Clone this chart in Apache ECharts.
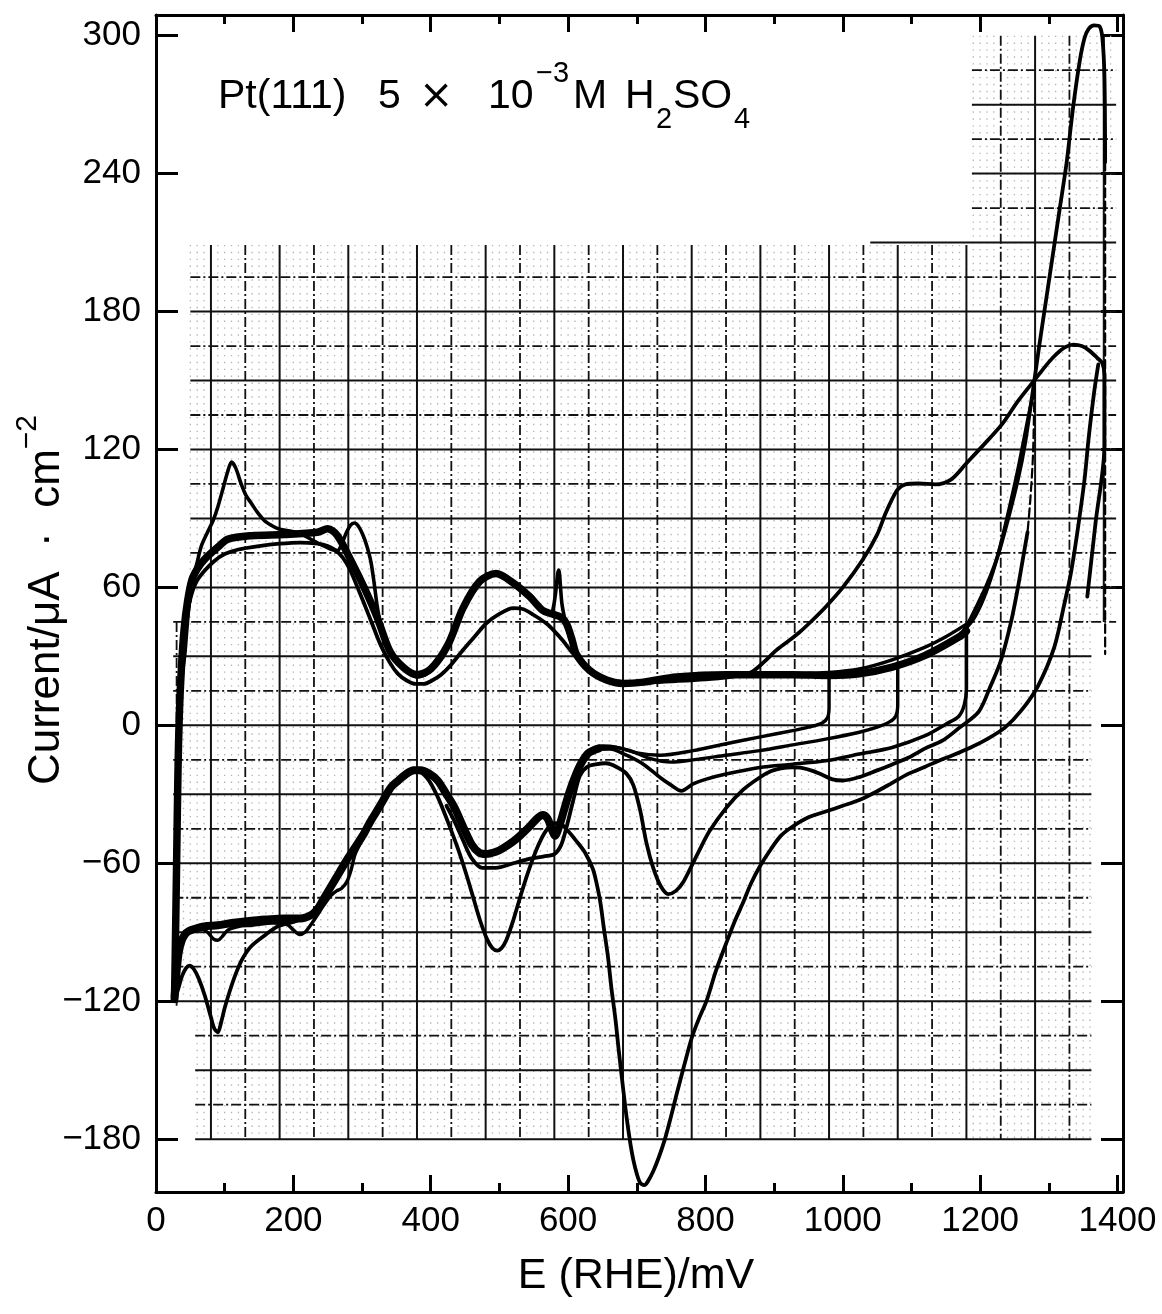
<!DOCTYPE html>
<html><head><meta charset="utf-8">
<script src="https://cdn.jsdelivr.net/npm/echarts@6/dist/echarts.min.js"></script>
<style>html,body{margin:0;padding:0;background:#fff}#c{width:1162px;height:1314px}</style>
</head><body><div id="c"></div>
<script>
// ---- axis ticks ----
const X_TICKS = [0, 200, 400, 600, 800, 1000, 1200, 1400];
const Y_TICKS = [-180, -120, -60, 0, 60, 120, 180, 240, 300];

// ---- graph-paper major lines (decoration) ----
const paperX = [30,80,130,180,230,280,330,380,430,480,530,580,630,680,730,780,830,880,930,980,1030,1080,1130,1180,1230,1280,1330,1380];
const paperY = [285,270,255,240,225,210,195,180,165,150,135,120,105,90,75,60,45,30,15,0,-15,-30,-45,-60,-75,-90,-105,-120,-135,-150,-165,-180];

// ---- curves: [E (mV), current (uA cm^-2)] ----
const anodicBundle = [[27,-118],[28,-100],[30,-60],[32,-20],[34,5],[37,25],[41,42],[46,54],[52,63],[60,68],[70,72],[90,77.5],[105,81],[139,82.5],[187,83],[235,84],[250,85.5],[264,82.6],[284,71.6],[303,60],[322,47],[341,32],[361,25],[380,22],[400,24.5],[425,35],[447,51],[471,62.5],[495,66],[520,62],[544,56],[563,50],[576,48.5],[590,47],[598,44],[606,37],[612,31],[631,24],[656,19.7],[680,18.2],[710,18.8],[758,21],[830,22],[927,22],[980,21.7],[1024,22.4],[1072,25.3],[1120,30.4],[1169,38.4],[1180,41]];
const anodicBundle2 = [[930,22.5],[980,23],[1024,24.5],[1072,28.5],[1120,34],[1150,38.5],[1180,44]];
const anodicClean = [[29,-110],[30,-80],[31,-40],[33,0],[36,15],[39,24],[42,31],[45,42],[48,52],[51,58],[55,65],[60,71],[66,78],[75,84],[83,89],[90,95],[98,103.5],[104,110],[110,114.5],[116,112],[124,105],[131,100],[139,96.5],[148,92.5],[158,89],[168,87],[178,85.5],[195,84.5],[211,83.3],[228,80.5],[245,78],[256,76.5],[264,76],[270,78.5],[276,83],[283,87],[289,88],[295,86.5],[301,83],[307,78],[313,71],[318,61],[322,52],[327,44],[332,39.5],[340,33.5],[350,28.5],[357,26.5],[368,23],[380,21],[395,22.5],[410,27],[425,35],[447,51],[471,62.5],[495,66],[520,62],[544,56],[563,50],[575,48.5],[579,52],[582,58],[584.5,65],[586,67.5],[587.5,66],[589,60],[591,53],[594,48],[598,43],[605,36],[612,30],[631,24],[656,20],[680,18.5]];
const anodicDisordered = [[27,-118],[28,-95],[30,-55],[32,-15],[35,12],[39,30],[44,45],[50,55],[58,62],[70,67],[85,71.5],[100,74.5],[120,76.5],[150,78],[180,79],[210,79.5],[235,79],[250,78],[262,76],[272,73],[282,68],[292,61],[303,53],[315,44],[327,35],[340,27.5],[352,22.5],[365,19.5],[378,18],[390,18],[402,19.5],[415,22],[430,26.5],[447,32.8],[465,39],[481,44.4],[500,48.5],[520,51],[535,50.5],[550,48],[568,44.4],[580,41],[592,37],[607,31.3],[625,25.5],[645,21.5],[665,19.5],[690,18.8],[720,18.8],[760,19.3],[800,20],[835,21],[855,22],[869,23.5],[885,27.5],[903,32.6],[920,36.5],[937,40.5],[955,45.5],[975,51.5],[1000,60],[1029,72],[1050,83],[1062,92],[1072,98.5],[1080,102.6],[1091,104.8],[1110,105.2],[1135,104.8],[1158,107],[1180,114],[1205,122],[1232,131],[1255,141],[1280,150.5],[1300,158],[1311,161.5],[1324,164.5],[1336,165.6],[1348,165],[1359,163],[1370,160],[1378,157.5],[1381,152],[1381,122],[1368,88],[1356,56]];
const anodicTo1380 = [[1169,38.4],[1180,43],[1197,53],[1211,62],[1226,74],[1240,89],[1255,107],[1265,122],[1277,146],[1286,165],[1296,185],[1306,205],[1316,225],[1326,245],[1335,268],[1345,289],[1352,299],[1358,303],[1366,304.5],[1374,304],[1378,299],[1381,282],[1382,245]];
const reversal1380 = [[1382,245],[1382,31]];
const anodicTo1280 = [[1169,39],[1190,46],[1205,55],[1218,66],[1230,79],[1242,94],[1254,110],[1264,125],[1272,137],[1279,146]];
const reversal1280 = [[1279,146],[1277,118],[1273,98],[1269,84]];
const cathodic1280 = [[1269,84],[1262,72],[1255,60],[1245,45],[1230,28],[1215,17],[1198,6],[1170,-1],[1145,-6.7],[1120,-10],[1096,-14],[1072,-17],[1048,-19.8],[1024,-22.5],[1000,-24],[985,-23.5],[970,-21.5],[956,-19.8],[940,-18.5],[927,-18.3],[910,-18.7],[895,-20],[879,-22.7],[855,-28],[830,-36],[806,-46],[790,-55],[780,-61],[768,-68],[757,-72],[746,-73.4],[735,-70],[724,-62],[714,-51],[705,-37],[695,-26],[685,-21],[670,-18],[655,-16.5],[640,-17],[628,-18],[617,-22],[608,-32],[598,-44],[590,-52],[580,-56],[565,-57],[545,-58],[520,-60],[495,-62],[475,-62],[460,-58],[447,-50],[435,-42],[423,-35]];
const cathodic1180 = [[1180,41],[1180,16],[1177,9],[1169,4],[1150,0.5],[1120,-4.5],[1072,-9.6],[1024,-12.5],[975,-15.4],[927,-16.9],[879,-18.3],[830,-21.2],[800,-23.5],[782,-25.5],[765,-28.5],[750,-26],[734,-22.7],[710,-17],[685,-13],[661,-10.3],[640,-10.5],[625,-13]];
const cathodic1080 = [[1080,25],[1080,9],[1077,4],[1068,1.5],[1050,-0.8],[1024,-3],[975,-6],[927,-8.5],[879,-11],[830,-13],[782,-15],[750,-16],[720,-14.5],[690,-11],[665,-9.5],[645,-10],[630,-12.5],[618,-17]];
const cathodic980 = [[980,21.7],[980,8],[978,3.5],[970,1],[950,-0.8],[927,-2.3],[880,-5],[830,-8],[782,-11],[734,-13],[700,-12],[670,-9.5],[650,-9],[635,-10.5],[622,-14],[612,-20]];
const cathodicBundle = [[645,-10],[630,-12],[620,-16],[612,-21],[602,-29],[594,-37],[587,-44],[581,-48],[576,-45],[570,-40.5],[563,-39],[555,-40.5],[544,-44],[530,-48],[520,-50.5],[505,-53.5],[495,-55],[480,-56],[471,-55.5],[460,-52],[447,-44],[435,-36],[423,-30],[410,-24],[398,-21],[385,-19.5],[375,-19.5],[365,-21],[353,-24],[342,-27],[330,-33],[320,-38],[310,-43],[303,-47],[290,-53],[279,-58],[267,-64],[255,-70],[245,-75],[235,-80],[226,-82.5],[210,-84],[187,-84],[160,-84.5],[139,-85],[110,-86],[90,-87],[70,-87.5],[57,-88.5],[48,-89.5],[42,-91],[37,-94],[33,-99],[30,-107],[28,-114],[27,-119]];
const cathodicClean = [[398,-21],[380,-19.5],[360,-22],[340,-28],[320,-39],[300,-50],[290,-56],[284,-63],[278,-68],[270,-71],[263,-72],[255,-74],[245,-78],[235,-82.5],[225,-87],[217,-90],[209,-91],[200,-89],[190,-86.5],[170,-86],[140,-87],[120,-87.5],[105,-89],[96,-92],[90,-93.5],[84,-93],[75,-90],[65,-88.5],[55,-88.5],[45,-90],[38,-93],[33,-98],[30,-105]];
const cathodicOxide = [[1372,157],[1366,145],[1358,125],[1352,107],[1342,85],[1332,66],[1322,52],[1308,34],[1284,17],[1260,6.5],[1236,-1],[1210,-6],[1187,-9.5],[1160,-13],[1139,-15.5],[1120,-18],[1096,-21],[1072,-25],[1048,-29],[1024,-32.5],[1000,-35],[975,-37.5],[950,-40],[927,-44],[910,-48],[895,-54],[880,-61],[866,-69],[855,-77],[843,-85],[830,-95],[815,-107],[802,-119.5],[790,-128],[780,-136],[769,-148],[758,-160.5],[750,-170],[741,-180],[732,-188],[724,-194],[716,-198.5],[711,-200],[705,-199],[700,-195],[695,-189],[691,-182.5],[685,-170],[680,-157.6],[674,-142],[669,-128],[663,-114],[658,-100.5],[652,-88],[647,-77],[641,-68],[636,-62.4],[625,-55.5],[613,-50.7],[600,-46],[590,-43],[580,-42.5],[570,-45],[560,-50],[550,-57],[540,-65.5],[530,-75],[520,-85],[510,-93.5],[503,-97],[497,-98],[490,-97],[482,-93],[472,-85],[462,-75],[452,-65],[440,-54],[425,-42],[410,-31],[395,-23],[380,-20],[365,-22],[342,-27],[320,-38],[303,-47],[290,-54],[279,-59],[265,-66],[250,-73],[235,-79],[220,-83],[200,-85.5],[177,-87.5],[160,-91],[139,-96],[125,-102],[115,-109],[107,-116],[100,-123],[95,-129],[90,-133.5],[85,-132],[80,-127],[71,-117.5],[62,-110],[55,-106],[49,-104.5],[44,-105.5],[38,-109],[33,-114],[29,-118],[27,-120]];

const FONT = "'Liberation Sans', Arial, Helvetica, sans-serif";

function curve(data, width, dashed) {
  return {
    type: 'line', data: data, showSymbol: false, symbol: 'none', smooth: 0.3,
    silent: true, animation: false, z: 3,
    lineStyle: { color: '#000', width: width, type: dashed ? 'dashed' : 'solid', cap: 'round', join: 'round' },
    emphasis: { disabled: true }
  };
}

const paperSeries = {
  type: 'custom', silent: true, animation: false, z: 1, data: [[0, 0]],
  renderItem: function (params, api) {
    const ch = [];
    function seg(x1, y1, x2, y2, style) {
      const a = api.coord([x1, y1]), b = api.coord([x2, y2]);
      ch.push({ type: 'line', shape: { x1: a[0], y1: a[1], x2: b[0], y2: b[1] }, style: style });
    }
    const dotStyle = { stroke: '#b4b4b4', lineWidth: 1.3, lineDash: [1.4, 5.48] };
    const solid = { stroke: '#111', lineWidth: 2 };
    const dash = { stroke: '#111', lineWidth: 1.8, lineDash: [10, 3, 2, 3] };
    for (let i = 0; i < paperX.length; i++) {
      for (let k = 1; k <= 4; k++) {
        const x = paperX[i] + k * 10;
        if (x > 1398) continue;
        let top = x >= 1190 ? 300 : 209;
        let bot = -180;
        if (x < 45) { top = 45; bot = -120; }
        else if (x < 57) { bot = -120; }
        if (x > 1362) bot = 45;
        seg(x, top, x, bot, dotStyle);
      }
    }
    paperY.forEach(function (y) {
      let x1, x2;
      if (y > 210) { x1 = 1188; x2 = 1398; }
      else if (y === 210) { x1 = 1040; x2 = 1398; }
      else if (y >= 60) { x1 = 50; x2 = 1398; }
      else if (y === 45) { x1 = 25; x2 = 1398; }
      else if (y >= -120) { x1 = 25; x2 = 1362; }
      else { x1 = 57; x2 = 1362; }
      seg(x1, y, x2, y, (y % 30 === 0) ? solid : dash);
    });
    paperX.forEach(function (x) {
      let y1, y2;
      if (x === 30) { y1 = 45; y2 = -122; }
      else if (x === 1380) { y1 = 300; y2 = 45; }
      else if (x >= 1230) { y1 = 300; y2 = -180; }
      else { y1 = 209; y2 = -180; }
      seg(x, y1, x, y2, ((x - 80) % 100 === 0) ? solid : dash);
    });
    return { type: 'group', children: ch };
  }
};

const minusFmt = function (v) { return v < 0 ? '\u2212' + (-v) : String(v); };
const plainFmt = function (v) { return String(v); };

function xAxisCfg(pos, labels) {
  return {
    type: 'value', position: pos, min: 0, max: 1408, interval: 200,
    axisLine: { show: true, onZero: false, lineStyle: { color: '#000', width: 3 } },
    axisTick: { show: true, inside: true, length: 17, lineStyle: { color: '#000', width: 3 } },
    minorTick: { show: true, splitNumber: 2, length: 9, lineStyle: { color: '#000', width: 3 } },
    axisLabel: { show: labels, customValues: X_TICKS, formatter: plainFmt, color: '#000', fontSize: 35, fontFamily: FONT, margin: 12 },
    splitLine: { show: false }, minorSplitLine: { show: false }
  };
}
function yAxisCfg(pos, labels) {
  return {
    type: 'value', position: pos, min: -203, max: 309,
    axisLine: { show: true, onZero: false, lineStyle: { color: '#000', width: 3 } },
    axisTick: { show: true, inside: true, length: 22, customValues: Y_TICKS, lineStyle: { color: '#000', width: 3 } },
    axisLabel: { show: labels, customValues: Y_TICKS, formatter: minusFmt, color: '#000', fontSize: 35, fontFamily: FONT, margin: 15 },
    splitLine: { show: false }
  };
}

function txt(s, x, y, size, fam) {
  return { type: 'text', x: x, y: y, silent: true,
    style: { text: s, fontSize: size, fontFamily: fam || FONT, fill: '#000',
      align: 'left', verticalAlign: 'middle', textAlign: 'left', textVerticalAlign: 'middle' } };
}

const chart = echarts.init(document.getElementById('c'), null, { renderer: 'canvas' });
chart.setOption({
  animation: false,
  backgroundColor: '#fff',
  grid: { left: 156, right: 39, top: 15, bottom: 122, containLabel: false, outerBoundsMode: 'none' },
  xAxis: [xAxisCfg('bottom', true), xAxisCfg('top', false)],
  yAxis: [yAxisCfg('left', true), yAxisCfg('right', false)],
  graphic: [
    txt('Pt(111)', 218, 97, 41),
    txt('5', 378, 97, 41),
    txt('\u00d7', 419, 97, 41, "'DejaVu Sans', sans-serif"),
    txt('10', 488, 97, 41),
    txt('\u22123', 536, 74, 29),
    txt('M', 573, 97, 41),
    txt('H', 625, 97, 41),
    txt('2', 656, 120, 29),
    txt('SO', 673, 97, 41),
    txt('4', 734, 120, 29),
    { type: 'text', x: 47, y: 600, rotation: Math.PI / 2, silent: true,
      style: { text: '{m|Current/\u03bcA  \u00b7  cm}{sup|\u22122}',
        align: 'center', verticalAlign: 'middle', textAlign: 'center', textVerticalAlign: 'middle', fill: '#000',
        rich: {
          m: { fontSize: 44, fontFamily: FONT, lineHeight: 68, fill: '#000', verticalAlign: 'middle' },
          sup: { fontSize: 30, fontFamily: FONT, lineHeight: 30, fill: '#000', verticalAlign: 'top' }
        } } },
    { type: 'text', x: 636, y: 1276, silent: true,
      style: { text: 'E (RHE)/mV', fontSize: 43, fontFamily: FONT, fill: '#000',
        align: 'center', verticalAlign: 'middle', textAlign: 'center', textVerticalAlign: 'middle' } }
  ],
  series: [
    paperSeries,
    curve(anodicBundle, 7.5),
    curve(anodicBundle2, 3.4),
    curve(anodicClean, 3.6),
    curve(anodicDisordered, 3.8),
    curve(anodicTo1380, 3.8),
    curve(reversal1380, 2.2, true),
    curve(anodicTo1280, 3.4),
    curve(reversal1280, 2.2, true),
    curve(cathodic1280, 3.8),
    curve(cathodic1180, 3.6),
    curve(cathodic1080, 3.4),
    curve(cathodic980, 3.4),
    curve(cathodicBundle, 8),
    curve(cathodicClean, 3.4),
    curve(cathodicOxide, 3.8)
  ]
});
</script></body></html>
